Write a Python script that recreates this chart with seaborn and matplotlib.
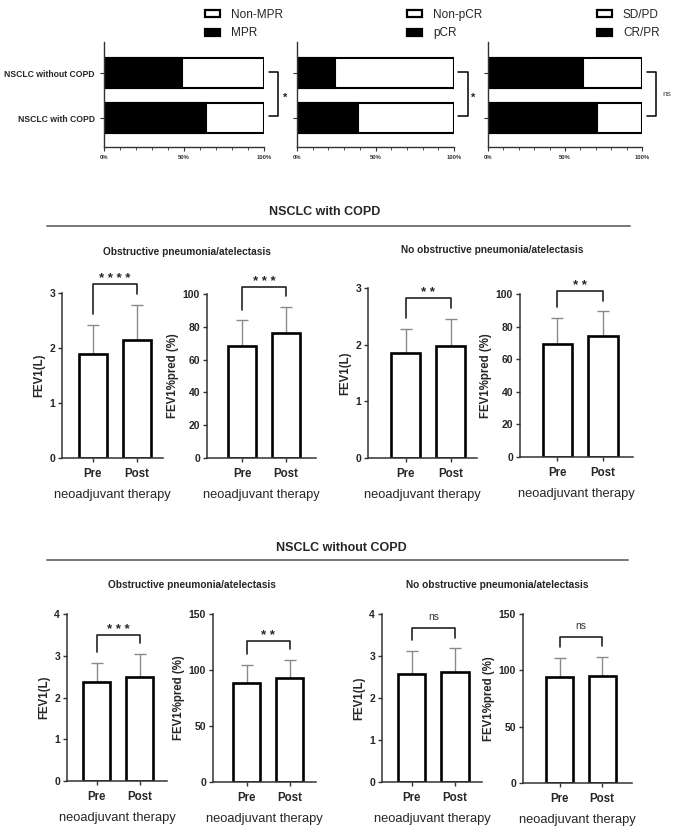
import numpy as np
import pandas as pd
import matplotlib
matplotlib.use("Agg")
import matplotlib.pyplot as plt
from matplotlib.patches import Patch
from matplotlib.lines import Line2D
from matplotlib.ticker import MultipleLocator
import seaborn as sns

sns.set_style("white")
plt.rcParams['font.family'] = ['Liberation Sans', 'DejaVu Sans']

# ---------------- data ----------------
top_groups = ["NSCLC without COPD", "NSCLC with COPD"]
mpr_rate = [49, 64]
pcr_rate = [24, 39]
orr_rate = [62, 71]
mpr_legend = ["Non-MPR", "MPR"]
pcr_legend = ["Non-pCR", "pCR"]
orr_legend = ["SD/PD", "CR/PR"]
top_sig = ["*", "*", "ns"]

conditions = ["Pre", "Post"]

# NSCLC with COPD
copd_obs_fev1_mean = [1.90, 2.15]
copd_obs_fev1_sd = [0.52, 0.63]
copd_obs_pred_mean = [68.3, 76.5]
copd_obs_pred_sd = [15.7, 15.7]
copd_noobs_fev1_mean = [1.85, 1.98]
copd_noobs_fev1_sd = [0.43, 0.48]
copd_noobs_pred_mean = [69.5, 74.0]
copd_noobs_pred_sd = [16.0, 15.5]

# NSCLC without COPD
nocopd_obs_fev1_mean = [2.36, 2.49]
nocopd_obs_fev1_sd = [0.46, 0.55]
nocopd_obs_pred_mean = [88.5, 93.0]
nocopd_obs_pred_sd = [16.0, 16.0]
nocopd_noobs_fev1_mean = [2.58, 2.61]
nocopd_noobs_fev1_sd = [0.53, 0.57]
nocopd_noobs_pred_mean = [94.0, 95.0]
nocopd_noobs_pred_sd = [17.0, 17.0]

bar_sig = ["****", "***", "**", "**", "***", "**", "ns", "ns"]
bracket_level = [3.16, 104, 2.82, 102, 3.5, 126, 3.67, 130]

W, H = 687, 834
fig = plt.figure(figsize=(W / 100, H / 100), dpi=100)


def rect(l, t, r, b):
    return [l / W, 1 - b / H, (r - l) / W, (b - t) / H]


def fx(x):
    return x / W


def fy(y):
    return 1 - y / H


SPINE = "#333333"

# ---------------- top row: stacked horizontal bars ----------------
top_rects = [(104, 42, 264, 147), (297, 42, 454, 147), (488, 42, 642, 147)]
top_rates = [mpr_rate, pcr_rate, orr_rate]
top_legends = [mpr_legend, pcr_legend, orr_legend]
legend_x = [205, 407, 597]
bracket_sx = [(103, 109, 112), (102.5, 109, 111), (103, 109, 113)]

for i in range(3):
    ax = fig.add_axes(rect(*top_rects[i]))
    df = pd.DataFrame({"group": top_groups, "total": [100, 100], "rate": top_rates[i]})
    sns.barplot(data=df, x="total", y="group", orient="h", color="white",
                edgecolor="black", linewidth=1.5, width=0.67, saturation=1, ax=ax)
    sns.barplot(data=df, x="rate", y="group", orient="h", color="black",
                edgecolor="black", linewidth=1.5, width=0.67, saturation=1, ax=ax)
    ax.set_xlim(0, 100)
    ax.set_ylim(1.64, -0.69)
    ax.set_xlabel("")
    ax.set_ylabel("")
    for s in ["top", "right"]:
        ax.spines[s].set_visible(False)
    for s in ["left", "bottom"]:
        ax.spines[s].set_color(SPINE)
        ax.spines[s].set_linewidth(1.0)
    ax.set_xticks([0, 50, 100])
    ax.set_xticklabels(["0%", "50%", "100%"], fontsize=4.2, fontweight="bold", color="#333")
    ax.xaxis.set_minor_locator(MultipleLocator(10))
    ax.tick_params(axis="x", which="major", direction="out", length=3, width=0.8,
                   color=SPINE, pad=3, bottom=True)
    ax.tick_params(axis="x", which="minor", direction="out", length=2, width=0.6,
                   color=SPINE, bottom=True)
    ax.tick_params(axis="y", direction="out", length=3, width=0.8, color=SPINE, left=True)
    if i == 0:
        ax.set_yticklabels(top_groups, fontsize=6.2, fontweight="bold")
    else:
        ax.set_yticklabels([])
    # significance bracket
    x0, x1, xt = bracket_sx[i]
    ax.plot([x0, x1, x1, x0], [-0.02, -0.02, 0.96, 0.96], color="black",
            lw=1.1, clip_on=False)
    sig = top_sig[i]
    if sig == "ns":
        ax.text(xt, 0.47, sig, ha="left", va="center", fontsize=6, color="#444", clip_on=False)
    else:
        ax.text(xt, 0.55, sig, ha="left", va="center", fontsize=8, fontweight="bold",
                clip_on=False)
    handles = [Patch(facecolor="white", edgecolor="black", linewidth=1.6),
               Patch(facecolor="black", edgecolor="black", linewidth=1.6)]
    fig.legend(handles, top_legends[i], loc="upper left",
               bbox_to_anchor=(fx(legend_x[i]), fy(9)), frameon=False,
               fontsize=8.5, handlelength=1.3, handleheight=0.55, handletextpad=0.9,
               labelspacing=0.55, borderpad=0, borderaxespad=0)

# ---------------- section titles ----------------
fig.text(fx(325), fy(212), "NSCLC with COPD", ha="center", va="center",
         fontsize=9, fontweight="bold")
fig.add_artist(Line2D([fx(47), fx(630)], [fy(226), fy(226)], color="#777", lw=1.4))
fig.text(fx(187), fy(252), "Obstructive pneumonia/atelectasis", ha="center", va="center",
         fontsize=7.3, fontweight="bold")
fig.text(fx(492), fy(250), "No obstructive pneumonia/atelectasis", ha="center", va="center",
         fontsize=7.3, fontweight="bold")

fig.text(fx(341), fy(548), "NSCLC without COPD", ha="center", va="center",
         fontsize=9, fontweight="bold")
fig.add_artist(Line2D([fx(47), fx(628)], [fy(560), fy(560)], color="#777", lw=1.4))
fig.text(fx(192), fy(585), "Obstructive pneumonia/atelectasis", ha="center", va="center",
         fontsize=7.3, fontweight="bold")
fig.text(fx(497), fy(585), "No obstructive pneumonia/atelectasis", ha="center", va="center",
         fontsize=7.3, fontweight="bold")

# ---------------- bar panels ----------------
bar_rects = [(62, 293, 163, 458), (207, 294, 316, 458), (368, 288, 477, 458), (520, 294, 633, 457),
             (67, 614, 167, 781), (213, 614, 316, 782), (382, 614, 482, 782), (523, 614, 632, 783)]
bar_means = [copd_obs_fev1_mean, copd_obs_pred_mean, copd_noobs_fev1_mean, copd_noobs_pred_mean,
             nocopd_obs_fev1_mean, nocopd_obs_pred_mean, nocopd_noobs_fev1_mean, nocopd_noobs_pred_mean]
bar_sds = [copd_obs_fev1_sd, copd_obs_pred_sd, copd_noobs_fev1_sd, copd_noobs_pred_sd,
           nocopd_obs_fev1_sd, nocopd_obs_pred_sd, nocopd_noobs_fev1_sd, nocopd_noobs_pred_sd]
bar_ymax = [3, 100, 3, 100, 4, 150, 4, 150]
bar_ystep = [1, 20, 1, 20, 1, 50, 1, 50]
bar_ylabel = ["FEV1(L)", "FEV1%pred (%)"] * 4
bar_xlims = [(-0.70, 1.60), (-0.80, 1.68), (-0.84, 1.58), (-0.82, 1.66),
             (-0.69, 1.64), (-0.79, 1.62), (-0.68, 1.62), (-0.86, 1.70)]

for i in range(8):
    ax = fig.add_axes(rect(*bar_rects[i]))
    df = pd.DataFrame({"cond": conditions, "mean": bar_means[i], "sd": bar_sds[i]})
    sns.barplot(data=df, x="cond", y="mean", color="white", edgecolor="black",
                linewidth=1.9, width=0.64, saturation=1, errorbar=None, ax=ax, zorder=2)
    ax.errorbar(x=np.arange(len(conditions)), y=df["mean"],
                yerr=[np.zeros(len(conditions)), df["sd"]], fmt="none",
                ecolor="#8a8a8a", elinewidth=1.0, capsize=4.5, capthick=1.0, zorder=1)
    ymax = bar_ymax[i]
    ax.set_ylim(0, ymax)
    ax.set_xlim(*bar_xlims[i])
    ax.set_yticks(np.arange(0, ymax + 0.001, bar_ystep[i]))
    ax.set_yticklabels([str(int(v)) for v in np.arange(0, ymax + 0.001, bar_ystep[i])],
                       fontsize=7.5, fontweight="bold")
    ax.set_xticks(range(len(conditions)))
    ax.set_xticklabels(conditions, fontsize=8.3, fontweight="bold")
    ax.set_ylabel(bar_ylabel[i], fontsize=8.3, fontweight="bold", labelpad=3)
    ax.set_xlabel("neoadjuvant therapy", fontsize=9.3, labelpad=6.5)
    for s in ["top", "right"]:
        ax.spines[s].set_visible(False)
    for s in ["left", "bottom"]:
        ax.spines[s].set_color(SPINE)
        ax.spines[s].set_linewidth(1.1)
    ax.tick_params(axis="both", direction="out", length=3, width=1.0, color=SPINE,
                   left=True, bottom=True, pad=2)
    ax.tick_params(axis="x", pad=4.5)
    # bracket
    b = bracket_level[i]
    gap = 0.065 * ymax
    tops = np.array(bar_means[i]) + np.array(bar_sds[i])
    ax.plot([0, 0, 1, 1], [tops[0] + gap, b, b, tops[1] + gap], color="#222", lw=1.2,
            clip_on=False, zorder=3)
    sig = bar_sig[i]
    if sig == "ns":
        ax.annotate(sig, xy=(0.5, b), xytext=(0, 5.5), textcoords="offset points",
                    ha="center", va="baseline", fontsize=7.5, color="#333",
                    annotation_clip=False)
    else:
        ax.annotate(" ".join(sig), xy=(0.5, b), xytext=(0, 1.5), textcoords="offset points",
                    ha="center", va="baseline", fontsize=9.5, fontweight="bold",
                    annotation_clip=False)

fig.savefig("out.png", dpi=100, facecolor="white")
